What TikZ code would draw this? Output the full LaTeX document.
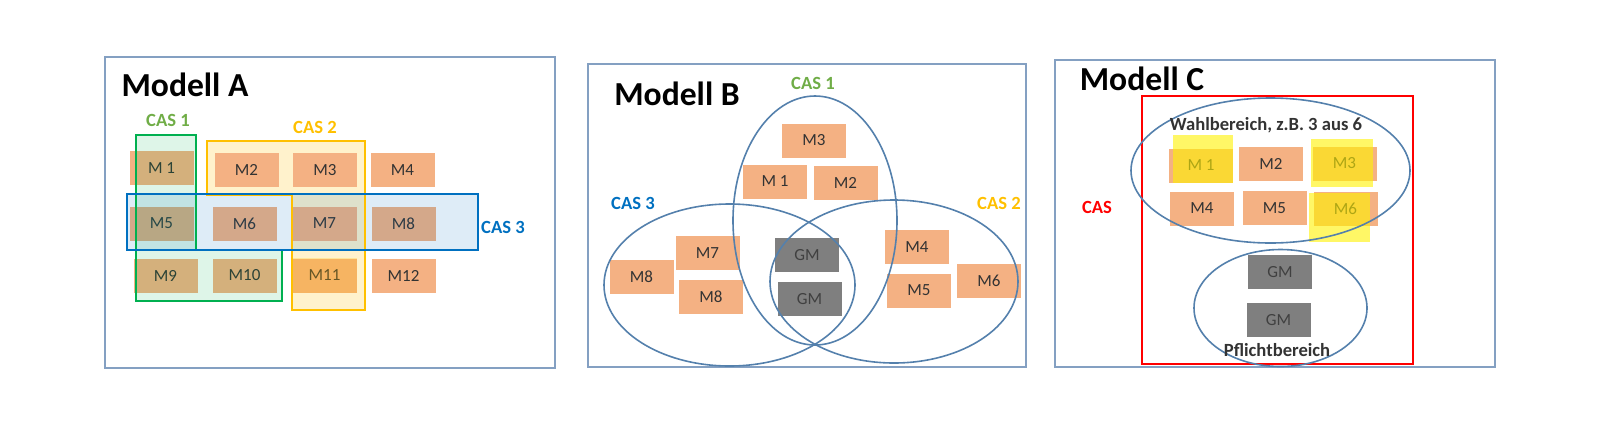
\documentclass[tikz,border=0pt]{standalone}
\usepackage{fontspec}
\setmainfont{Carlito}

\definecolor{modorange}{RGB}{244,177,131}
\definecolor{gmgray}{RGB}{127,127,127}
\definecolor{casgreen}{RGB}{0,176,80}
\definecolor{labgreen}{RGB}{112,173,71}
\definecolor{casyellow}{RGB}{255,192,0}
\definecolor{casblue}{RGB}{0,112,192}
\definecolor{panelline}{RGB}{132,160,194}
\definecolor{vennline}{RGB}{84,128,172}

\begin{document}
\begin{tikzpicture}[x=0.5pt, y=-0.5pt,
	every node/.style={font=\fontsize{8.5}{10}\selectfont, text=black!80},
	modbox/.style={fill=modorange, minimum width=32pt, minimum height=17pt, inner sep=0pt},
	gmbox/.style={fill=gmgray, text=black!75, minimum width=32pt, minimum height=17pt, inner sep=0pt},
	title/.style={font=\fontsize{16.8}{20}\selectfont\bfseries, text=black},
	caslabel/.style={font=\fontsize{9.3}{11}\selectfont\bfseries},
	panel/.style={draw=panelline, line width=0.8pt},
	venn/.style={draw=vennline, line width=0.8pt}]
	\useasboundingbox (0,0) rectangle (1612,430);

	% Modell A
	\draw[panel] (105,57) rectangle (555,368);
	\node[title] (titleA) at (185,85) {Modell A};
	\fill[casyellow, fill opacity=0.2] (207,141) -- (365,141) -- (365,310) -- (292,310) -- (292,195) -- (207,195) -- cycle;
	\foreach \n/\x/\y/\t in {1/161.5/168/M 1, 2/246.5/170/M2, 3/325/170/M3, 4/402.5/170/M4,
		5/161.5/223.5/M5, 6/244.5/223.5/M6, 7/324.5/223.5/M7, 8/403.5/223.5/M8,
		9/165.5/275.5/M9, 10/244.5/275.5/M10, 11/324.5/275.5/M11, 12/403.5/275.5/M12}
		{\node[modbox] (a-\n) at (\x,\y) {\t};}
	\fill[casyellow, fill opacity=0.25] (a-11.south west) rectangle (a-11.north east);
	\fill[casgreen, fill opacity=0.13] (136,135) -- (196,135) -- (196,250) -- (282,250) -- (282,301) -- (136,301) -- cycle;
	\fill[casblue, fill opacity=0.13] (127,194) rectangle (478,250);
	\draw[casgreen, line width=1pt] (136,135) -- (196,135) -- (196,250) -- (282,250) -- (282,301) -- (136,301) -- cycle;
	\draw[casyellow, line width=1pt] (207,141) -- (365,141) -- (365,310) -- (292,310) -- (292,195) -- (207,195) -- cycle;
	\draw[casblue, line width=1pt] (127,194) rectangle (478,250);
	\node[caslabel, text=labgreen] (casA1) at (168,120) {CAS 1};
	\node[caslabel, text=casyellow] (casA2) at (315,127) {CAS 2};
	\node[caslabel, text=casblue] (casA3) at (503,227) {CAS 3};

	% Modell B
	\draw[panel] (588,64) rectangle (1026,367);
	\node[title] (titleB) at (677,94) {Modell B};
	\foreach \n/\x/\y/\t in {3/814/140.5/M3, 1/775/181.5/M 1, 2/845.5/182.5/M2,
		7/707.5/253/M7, 8/641.5/277/M8, 8b/711/296.5/M8,
		4/917/247/M4, 5/919/290.5/M5, 6/989/280.5/M6}
		{\node[modbox] (b-\n) at (\x,\y) {\t};}
	\node[gmbox] (b-gm1) at (807,255) {GM};
	\node[gmbox] (b-gm2) at (809.5,299) {GM};
	\draw[venn] (815,220.5) ellipse [x radius=82, y radius=124.5];
	\draw[venn] (729.5,285) ellipse [x radius=125.5, y radius=81];
	\draw[venn] (894,281.5) ellipse [x radius=124, y radius=81.5];
	\node[caslabel, text=labgreen] (casB1) at (813,83) {CAS 1};
	\node[caslabel, text=casblue] (casB3) at (633,203) {CAS 3};
	\node[caslabel, text=casyellow] (casB2) at (999,203) {CAS 2};

	% Modell C
	\draw[panel] (1055,60) rectangle (1495,367);
	\node[title] (titleC) at (1142,79) {Modell C};
	\draw[red, line width=1pt] (1142,96) rectangle (1413,364);
	\node[caslabel, text=red] (casC) at (1097,207) {CAS};
	\foreach \n/\x/\y/\t in {1/1201/165.5/M 1, 2/1271/163.5/M2, 3/1344.5/163.5/M3,
		4/1202/208.5/M4, 5/1274.5/208/M5, 6/1345.5/208.5/M6}
		{\node[modbox] (c-\n) at (\x,\y) {\t};}
	\fill[yellow, fill opacity=0.6] (1173,135) rectangle (1233,183);
	\fill[yellow, fill opacity=0.6] (1311,139) rectangle (1373,187);
	\fill[yellow, fill opacity=0.6] (1309,193) rectangle (1370,242);
	\draw[venn] (1270.5,170.5) ellipse [x radius=139.5, y radius=72.5];
	\node[caslabel] (wahl) at (1266,125) {Wahlbereich, z.B. 3 aus 6};
	\node[gmbox] (c-gm1) at (1280,272) {GM};
	\node[gmbox] (c-gm2) at (1278.5,320) {GM};
	\draw[venn] (1280.5,308) ellipse [x radius=86.5, y radius=58.5];
	\node[caslabel] (pflicht) at (1277,350) {Pflichtbereich};
\end{tikzpicture}
\end{document}
